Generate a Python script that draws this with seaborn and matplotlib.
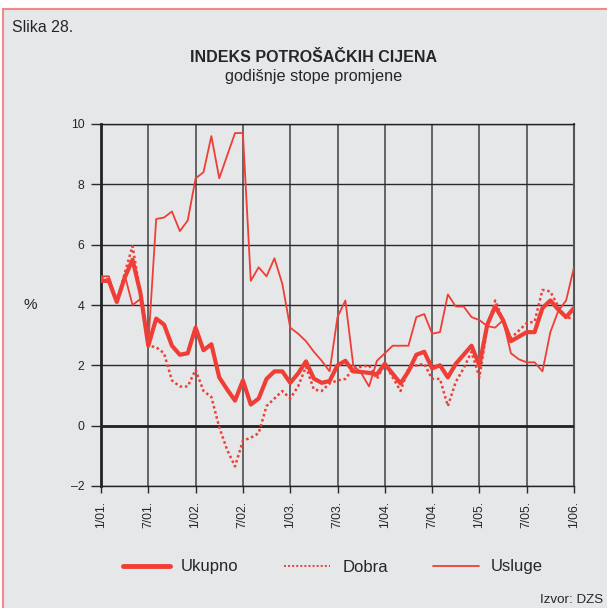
import numpy as np
import pandas as pd
import matplotlib
matplotlib.use("Agg")
import matplotlib.pyplot as plt
from matplotlib.patches import Rectangle
from matplotlib.lines import Line2D
import seaborn as sns

# monthly annual rates, 1/01 .. 1/06 (61 months)
ukupno = [4.8, 4.8, 4.1, 4.9, 5.5, 4.4, 2.65, 3.55, 3.35, 2.65, 2.35, 2.4,
          3.25, 2.5, 2.7, 1.6, 1.2, 0.83, 1.5, 0.7, 0.9, 1.55, 1.8, 1.8,
          1.42, 1.73, 2.13, 1.56, 1.42, 1.48, 2.0, 2.15, 1.8, 1.78, 1.75, 1.7,
          2.05, 1.72, 1.4, 1.8, 2.35, 2.45, 1.9, 2.0, 1.6, 2.05, 2.35, 2.65,
          2.0, 3.35, 3.95, 3.5, 2.8, 2.95, 3.1, 3.1, 3.9, 4.15, 3.85, 3.6,
          3.9]
dobra = [4.9, 4.85, 4.1, 5.05, 5.95, 4.4, 2.65, 2.6, 2.4, 1.5, 1.3, 1.3,
         1.85, 1.15, 0.95, -0.05, -0.8, -1.35, -0.5, -0.4, -0.25, 0.65, 0.9, 1.15,
         0.9, 1.3, 1.95, 1.2, 1.15, 1.4, 1.5, 1.55, 1.9, 1.95, 2.0, 1.55,
         2.05, 1.6, 1.15, 1.9, 2.0, 2.05, 1.55, 1.55, 0.65, 1.45, 1.9, 2.45,
         1.6, 3.25, 4.15, 3.5, 2.9, 3.15, 3.4, 3.45, 4.5, 4.45, 3.95, 3.55,
         3.6]
usluge = [4.95, 4.95, 4.1, 5.0, 4.0, 4.2, 2.7, 6.85, 6.9, 7.1, 6.45, 6.8,
          8.2, 8.4, 9.6, 8.2, 8.95, 9.7, 9.7, 4.8, 5.25, 4.95, 5.55, 4.7,
          3.25, 3.05, 2.8, 2.45, 2.15, 1.8, 3.6, 4.15, 2.0, 1.75, 1.3, 2.15,
          2.4, 2.65, 2.65, 2.65, 3.6, 3.7, 3.05, 3.1, 4.35, 3.95, 3.95, 3.6,
          3.5, 3.3, 3.25, 3.5, 2.4, 2.2, 2.1, 2.1, 1.8, 3.1, 3.8, 4.15,
          5.25]
x_labels = ['1/01.', '7/01.', '1/02.', '7/02.', '1/03.', '7/03.',
            '1/04.', '7/04.', '1/05.', '7/05.', '1/06.']
y_ticks = [-2, 0, 2, 4, 6, 8, 10]
y_labels = ['–2', '0', '2', '4', '6', '8', '10']

months = np.arange(len(ukupno))
df = pd.DataFrame({'mjesec': months, 'Ukupno': ukupno, 'Dobra': dobra, 'Usluge': usluge})

RED = '#ef3e36'
BG = '#e6e7e9'

sns.set_style("white")
plt.rcParams['font.family'] = ['Liberation Sans', 'DejaVu Sans']

fig = plt.figure(figsize=(6.07, 6.08), dpi=100)
fig.patch.set_facecolor('white')
fig.patches.append(Rectangle((3 / 607, -0.05), 1.0, 1 - 9 / 608 + 0.05,
                             transform=fig.transFigure, facecolor=BG,
                             edgecolor='#f08a8a', linewidth=1.5, zorder=-10))

ax = fig.add_axes([101 / 607, 1 - 486 / 608, 473 / 607, 362 / 608])
ax.set_facecolor(BG)

sns.lineplot(data=df, x='mjesec', y='Usluge', ax=ax, color=RED, linewidth=1.3, zorder=4)
sns.lineplot(data=df, x='mjesec', y='Dobra', ax=ax, color=RED, linewidth=1.8,
             linestyle=(0, (1, 1.1)), zorder=4)
sns.lineplot(data=df, x='mjesec', y='Ukupno', ax=ax, color=RED, linewidth=3.0, zorder=5)

ax.set_xlim(0, 60)
ax.set_ylim(-2, 10)
ax.set_xticks(np.arange(0, 61, 6))
ax.set_xticklabels(x_labels, rotation=90, fontsize=8.8)
ax.set_yticks(y_ticks)
ax.set_yticklabels(y_labels, fontsize=8.8)
ax.set_xlabel('')
ax.set_ylabel('')

ax.grid(axis='x', color='#5a5a5a', linewidth=1.3)
ax.grid(axis='y', color='#2a2a2a', linewidth=1.0)
ax.axhline(0, color='#222222', linewidth=2.0, zorder=3)

for side in ['left', 'bottom', 'right', 'top']:
    ax.spines[side].set_visible(True)
    ax.spines[side].set_color('#222222')
ax.spines['left'].set_linewidth(2.0)
ax.spines['bottom'].set_linewidth(1.0)
ax.spines['right'].set_linewidth(1.5)
ax.spines['right'].set_color('#555555')
ax.spines['top'].set_linewidth(1.0)

ax.tick_params(axis='y', direction='out', length=7, width=1, color='#2a2a2a', pad=5, left=True)
ax.tick_params(axis='x', direction='out', length=5, width=1, color='#2a2a2a', pad=6, bottom=True)

fig.text(30 / 607, 1 - 305 / 608, '%', fontsize=11, ha='center', va='center')
fig.text(12 / 607, 1 - 27 / 608, 'Slika 28.', fontsize=11.4, ha='left', va='center')
fig.text(314 / 607, 1 - 58 / 608, 'INDEKS POTROŠAČKIH CIJENA', fontsize=11.5,
         fontweight='bold', ha='center', va='center')
fig.text(314 / 607, 1 - 77 / 608, 'godišnje stope promjene', fontsize=11.7,
         ha='center', va='center')
fig.text(603 / 607, 1 - 600 / 608, 'Izvor: DZS', fontsize=9.6, ha='right', va='center')

handles = [Line2D([], [], color=RED, linewidth=3.5),
           Line2D([], [], color=RED, linewidth=1.4, linestyle=(0, (1, 1.1))),
           Line2D([], [], color=RED, linewidth=1.3)]
fig.legend(handles, ['Ukupno', 'Dobra', 'Usluge'], loc='center',
           bbox_to_anchor=(333 / 607, 1 - 567 / 608), ncol=3, frameon=False,
           fontsize=12, handlelength=2.8, handletextpad=0.7, columnspacing=2.7)

fig.savefig('out.png', dpi=100)
